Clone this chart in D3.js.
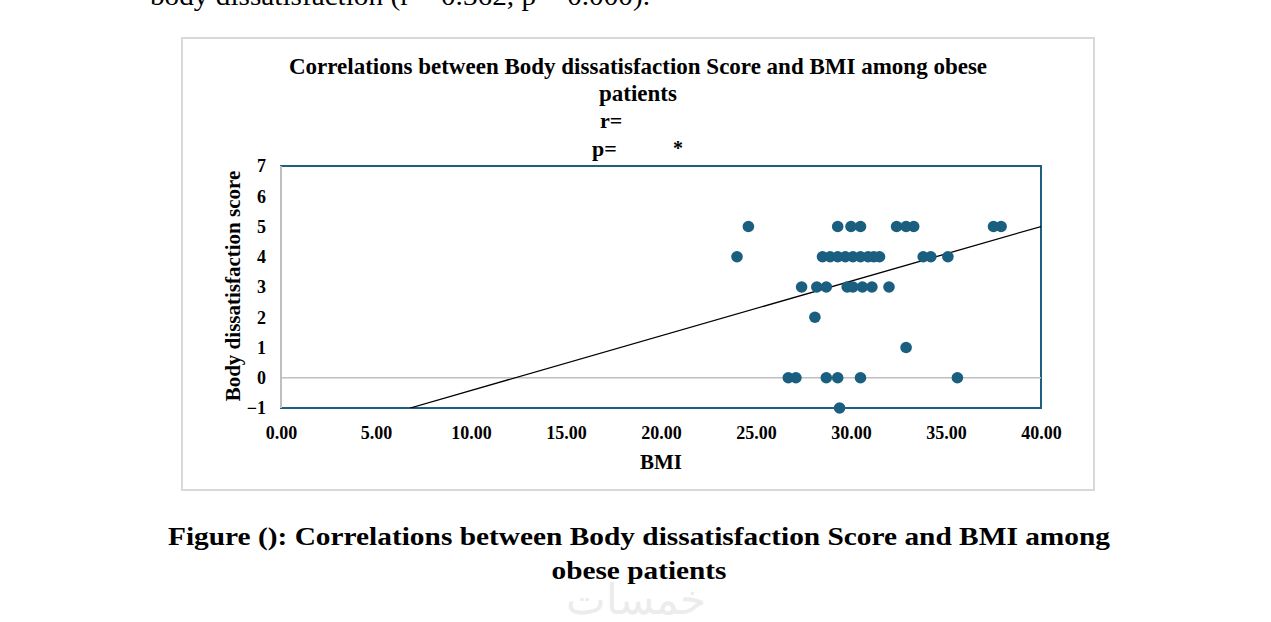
<!DOCTYPE html>
<html>
<head>
<meta charset="utf-8">
<script src="https://cdn.jsdelivr.net/npm/d3@7"></script>
<style>
body { margin:0; background:#fff; }
svg text { font-family: "Liberation Serif", "Times New Roman", serif; }
</style>
</head>
<body>
<svg id="chart"></svg>
<script>
// values
var bmi = [24.6, 29.3, 30.0, 30.5, 32.4, 32.9, 33.3, 37.5, 37.9,
           24.0, 28.5, 28.9, 29.3, 29.7, 30.1, 30.5, 30.9, 31.2, 31.5, 33.8, 34.2, 35.1,
           27.4, 28.2, 28.7, 29.8, 30.1, 30.6, 31.1, 32.0,
           28.1,
           32.9,
           26.7, 27.1, 28.7, 29.3, 30.5, 35.6,
           29.4];
var score = [5, 5, 5, 5, 5, 5, 5, 5, 5,
             4, 4, 4, 4, 4, 4, 4, 4, 4, 4, 4, 4, 4,
             3, 3, 3, 3, 3, 3, 3, 3,
             2,
             1,
             0, 0, 0, 0, 0, 0,
             -1];
var xTicks = [0, 5, 10, 15, 20, 25, 30, 35, 40];
var yTicks = [-1, 0, 1, 2, 3, 4, 5, 6, 7];
var trendSlope = 0.1807, trendIntercept = -2.228;

var titleLines = ["Correlations between Body dissatisfaction Score and BMI among obese", "patients"];
var captionLines = ["Figure (): Correlations between Body dissatisfaction Score and BMI among", "obese patients"];

var svg = d3.select("#chart").attr("width", 1271).attr("height", 622);

// cut-off line of body text at the very top
svg.append("text")
	.attr("x", 150).attr("y", 5)
	.attr("font-size", 28)
	.attr("textLength", 500).attr("lengthAdjust", "spacingAndGlyphs")
	.attr("fill", "#000")
	.text("body dissatisfaction (r = 0.362, p = 0.000).");

// chart box
svg.append("rect")
	.attr("x", 182).attr("y", 38)
	.attr("width", 912).attr("height", 452)
	.attr("fill", "#fff")
	.attr("stroke", "#d9d9d9")
	.attr("stroke-width", 2);

var x = d3.scaleLinear().domain([0, 40]).range([281, 1041]);
var y = d3.scaleLinear().domain([-1, 7]).range([408, 166]);

// title
svg.selectAll(".title").data(titleLines).enter().append("text")
	.attr("x", 638).attr("y", function(d, i) { return 74 + i * 27; })
	.attr("text-anchor", "middle")
	.attr("font-size", 23).attr("font-weight", "bold")
	.text(function(d) { return d; });
svg.append("text").attr("x", 600).attr("y", 128)
	.attr("font-size", 22).attr("font-weight", "bold").text("r=");
svg.append("text").attr("x", 592).attr("y", 156)
	.attr("font-size", 22).attr("font-weight", "bold").text("p=");
svg.append("text").attr("x", 673).attr("y", 155)
	.attr("font-size", 20).attr("font-weight", "bold").text("*");

// plot area border
svg.append("rect")
	.attr("x", x(0)).attr("y", y(7))
	.attr("width", x(40) - x(0)).attr("height", y(-1) - y(7))
	.attr("fill", "none")
	.attr("stroke", "#1f5f7f")
	.attr("stroke-width", 2);

// axis lines
svg.append("line")
	.attr("x1", x(0)).attr("x2", x(40))
	.attr("y1", y(0)).attr("y2", y(0))
	.attr("stroke", "#bfbfbf").attr("stroke-width", 1.5);
svg.append("line")
	.attr("x1", x(0)).attr("x2", x(0))
	.attr("y1", y(7)).attr("y2", y(-1))
	.attr("stroke", "#bfbfbf").attr("stroke-width", 2);

// tick labels
var xAxis = svg.append("g")
	.attr("transform", "translate(0," + (y(-1) + 18) + ")")
	.call(d3.axisBottom(x).tickValues(xTicks).tickFormat(d3.format(".2f")).tickSize(0).tickPadding(0));
xAxis.select(".domain").remove();
xAxis.selectAll("text")
	.attr("font-family", "Liberation Serif")
	.attr("font-size", 18).attr("font-weight", "bold").attr("fill", "#000");

var yAxis = svg.append("g")
	.attr("transform", "translate(" + (x(0) - 15) + ",0)")
	.call(d3.axisLeft(y).tickValues(yTicks).tickFormat(d3.format("d")).tickSize(0).tickPadding(0));
yAxis.select(".domain").remove();
yAxis.selectAll("text")
	.attr("font-family", "Liberation Serif")
	.attr("font-size", 18).attr("font-weight", "bold").attr("fill", "#000");

// axis titles
svg.append("text")
	.attr("x", 661).attr("y", 469)
	.attr("text-anchor", "middle")
	.attr("font-size", 21).attr("font-weight", "bold")
	.text("BMI");
svg.append("text")
	.attr("transform", "translate(240," + ((y(7) + y(-1)) / 2 - 1) + ") rotate(-90)")
	.attr("text-anchor", "middle")
	.attr("font-size", 21).attr("font-weight", "bold")
	.text("Body dissatisfaction score");

// trend line, clipped to plot area
svg.append("clipPath").attr("id", "clip").append("rect")
	.attr("x", x(0)).attr("y", y(7))
	.attr("width", x(40) - x(0)).attr("height", y(-1) - y(7));
var xStart = (-1 - trendIntercept) / trendSlope;
svg.append("line")
	.attr("clip-path", "url(#clip)")
	.attr("x1", x(xStart)).attr("y1", y(-1))
	.attr("x2", x(40)).attr("y2", y(trendSlope * 40 + trendIntercept))
	.attr("stroke", "#000").attr("stroke-width", 1.3);

// points
svg.append("g").selectAll("circle")
	.data(d3.range(bmi.length))
	.enter().append("circle")
	.attr("cx", function(i) { return x(bmi[i]); })
	.attr("cy", function(i) { return y(score[i]); })
	.attr("r", 5.8)
	.attr("fill", "#1b5f80");

// watermark (drawn under the caption)
svg.append("text")
	.attr("x", 636).attr("y", 614)
	.attr("text-anchor", "middle")
	.attr("font-family", "DejaVu Sans")
	.attr("font-size", 42)
	.attr("fill", "#ececec")
	.text("خمسات");

// figure caption
svg.selectAll(".caption").data(captionLines).enter().append("text")
	.attr("x", 639).attr("y", function(d, i) { return 545 + i * 34; })
	.attr("text-anchor", "middle")
	.attr("font-size", 26).attr("font-weight", "bold")
	.attr("textLength", function(d, i) { return i == 0 ? 942 : 175; })
	.attr("lengthAdjust", "spacingAndGlyphs")
	.text(function(d) { return d; });
</script>
</body>
</html>
